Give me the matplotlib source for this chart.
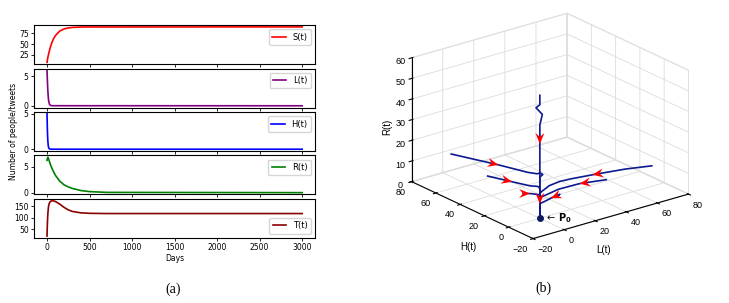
import matplotlib.pyplot as plt
import numpy as np
from matplotlib.patches import Polygon
from matplotlib.transforms import IdentityTransform

# (a) time series
t_S = [0, 10, 20, 40, 60, 80, 100, 150, 200, 250, 300, 400, 500, 3000]
S = [8, 19.3, 28.4, 43.7, 55.2, 63.8, 70.3, 80.4, 85.3, 87.7, 88.9, 89.7, 89.9, 90]
t_L = [0, 3, 6, 10, 15, 20, 30, 40, 60, 3000]
L = [6.0, 4.8, 3.7, 2.5, 1.4, 0.75, 0.22, 0.07, 0.01, 0]
t_H = [0, 2, 4, 7, 10, 15, 20, 30, 50, 3000]
H = [5.0, 3.9, 2.9, 1.8, 1.1, 0.45, 0.18, 0.03, 0, 0]
t_R = [0, 5, 10, 20, 40, 60, 80, 100, 150, 200, 250, 300, 400, 500, 700, 3000]
R = [6.2, 6.6, 6.8, 6.4, 5.4, 4.6, 3.9, 3.3, 2.2, 1.5, 1.1, 0.8, 0.4, 0.2, 0.05, 0]
t_T = [0, 3, 6, 10, 15, 20, 30, 45, 70, 100, 150, 200, 250, 300, 400, 500, 700, 3000]
T = [20, 60, 90, 118, 140, 154, 166, 172, 174, 170, 159, 145, 134, 127, 121, 119, 118, 118]

# (b) phase trajectories (L, H, R)
traj_v = ([0, 0, -2.5, 1.6, 0, 0, 0, 0, 0], [0, 0, 0, 0, 0, 0, 0, 0, 0],
          [59.6, 55, 54.1, 50, 45.2, 36, 20, 7, 0])
traj_l1 = ([0, 0, 0, 0, 0.5, 1.5, 0, 0], [73, 34, 10, 2, 0.5, -0.5, 0, 0],
           [11, 16.5, 19.5, 21, 21.8, 21, 20, 0])
traj_l2 = ([0, 0, 0, 0.5, 0, 0], [43, 22.8, 8, 2.4, 0, 0], [8.6, 11.4, 13.5, 14.7, 14.5, 0])
traj_l3 = ([0, 0, 0, 0, 0, 0], [13.8, 8, 4, 1.6, 0, 0], [8.2, 9.8, 10.6, 11.1, 11, 0])
traj_r1 = ([72, 55, 33.8, 20, 12.7, 6, 1.1, 0, 0], [0, 0, 0, 0, 0, 0, 0, 0, 0],
           [9.9, 12, 13.8, 14.8, 15.1, 14.5, 12.7, 12, 0])
traj_r2 = ([42.7, 25.5, 12, 1.9, 0, 0], [0, 0, 0, 0, 0, 0], [9.5, 11.3, 11.5, 10.2, 10, 0])
traj_r3 = ([11, 12.5, 11, 7, 3, 0.5, 0, 0], [-1.5, -0.5, 0, 0, 0, 0, 0, 0],
           [9.5, 9.0, 8.6, 8.2, 7.5, 7.2, 7, 0])
trajs = [traj_v, traj_l1, traj_l2, traj_l3, traj_r1, traj_r2, traj_r3]
# arrow heads: (trajectory, index of tip point)
arrows = [(0, 5), (0, 7), (1, 1), (2, 1), (3, 1), (4, 2), (5, 1), (6, 3)]

fig = plt.figure(figsize=(7.29, 3.03), dpi=100)

gs = fig.add_gridspec(5, 1, left=0.047, right=0.432, top=0.917, bottom=0.215, hspace=0.115)
series = [(t_S, S, 'red', 'S(t)', [25, 50, 75]),
          (t_L, L, 'purple', 'L(t)', [0, 5]),
          (t_H, H, 'blue', 'H(t)', [0, 5]),
          (t_R, R, 'green', 'R(t)', [0, 5]),
          (t_T, T, '#8b0000', 'T(t)', [50, 100, 150])]
axs = []
for i, (t, y, c, lab, yt) in enumerate(series):
    ax = fig.add_subplot(gs[i])
    ax.plot(t, y, color=c, lw=1.2, label=lab)
    ax.set_xlim(-150, 3150)
    ax.set_xticks(range(0, 3001, 500))
    ax.set_yticks(yt)
    ax.tick_params(labelsize=5.5, length=2.5, width=0.6, pad=1.5)
    if i < 4:
        ax.tick_params(labelbottom=False)
    ax.legend(loc='lower right' if i == 4 else 'upper right', fontsize=6,
              handlelength=1.6, borderpad=0.4)
    axs.append(ax)
axs[-1].set_xlabel('Days', fontsize=5.5, labelpad=1)
fig.text(0.019, 0.566, 'Number of people/tweets', rotation=90, fontsize=5.5,
         va='center', ha='center')
fig.text(173 / 729, 1 - 289 / 303, '(a)', family='Liberation Serif', fontsize=10,
         ha='center', va='center')

# (b) 3D phase portrait
ax3 = fig.add_axes([396 / 729, 1 - 280 / 303, 300 / 729, 300 / 303], projection='3d')
ax3.set_proj_type('ortho')
ax3.view_init(elev=21.5, azim=-128)
ax3.set_box_aspect((1, 1, 0.675))
line_c = '#0d1a8f'
for lx, hx, rx in trajs:
    ax3.plot(lx, hx, rx, color=line_c, lw=1.2)
ax3.plot([0], [0], [0], 'o', color='#0d1a5f', ms=4)
ax3.set_xlim(-20, 80)
ax3.set_ylim(-20, 80)
ax3.set_zlim(0, 60)
ax3.set_xticks(range(-20, 81, 20))
ax3.set_yticks(range(-20, 81, 20))
ax3.set_zticks(range(0, 61, 10))
ax3.tick_params(labelsize=6.5, labelfontfamily='Liberation Sans', pad=-4)
ax3.zaxis.set_tick_params(pad=-3.5)
for tk in ax3.yaxis.get_major_ticks():
    tk.label1.set_horizontalalignment('right')
for tk in ax3.xaxis.get_major_ticks():
    tk.label1.set_horizontalalignment('left')
for axis in (ax3.xaxis, ax3.yaxis, ax3.zaxis):
    axis.pane.set_facecolor('white')
    axis.pane.set_edgecolor('#d8d8d8')
    axis._axinfo['grid'].update(color='#dcdcdc', linewidth=0.6)
    axis.line.set_color('black')
    axis.line.set_linewidth(0.8)
    axis.label.set_visible(False)
    axis.offsetText.set_visible(False)

# axis titles placed in data space, just outside the box
lab_kw = dict(fontsize=7, family='Liberation Sans', ha='center', va='center')
ax3.text(-1, -54, 0, 'L(t)', **lab_kw)
ax3.text(-53, -9, 0, 'H(t)', **lab_kw)
ax3.text(-36, 80, 30, 'R(t)', zdir='z', **lab_kw)

fig.canvas.draw()
M = ax3.get_proj()


def to_data2d(x, y, z):
    v = M @ np.array([x, y, z, 1.0])
    return v[0] / v[3], v[1] / v[3]


# notched red arrow heads, built in pixel space along each trajectory
head_len, head_w = 11.0, 9.0
for k, i in arrows:
    lx, hx, rx = trajs[k]
    tip = ax3.transData.transform(to_data2d(lx[i], hx[i], rx[i]))
    prev = ax3.transData.transform(to_data2d(lx[i - 1], hx[i - 1], rx[i - 1]))
    d = (tip - prev) / np.hypot(*(tip - prev))
    n = np.array([-d[1], d[0]])
    pts = [tip, tip - d * head_len + n * head_w / 2, tip - d * head_len * 0.65,
           tip - d * head_len - n * head_w / 2]
    fig.add_artist(Polygon(pts, closed=True, facecolor='red', edgecolor='none',
                           transform=IdentityTransform(), zorder=5))

ax3.annotate(r'$\leftarrow\,\mathbf{P_0}$', xy=to_data2d(0, 0, 0),
             xycoords='data', xytext=(5, 0), textcoords='offset pixels',
             fontsize=7, va='center')

fig.text(543 / 729, 1 - 288 / 303, '(b)', family='Liberation Serif', fontsize=10,
         ha='center', va='center')

fig.savefig('out.png', dpi=100)
